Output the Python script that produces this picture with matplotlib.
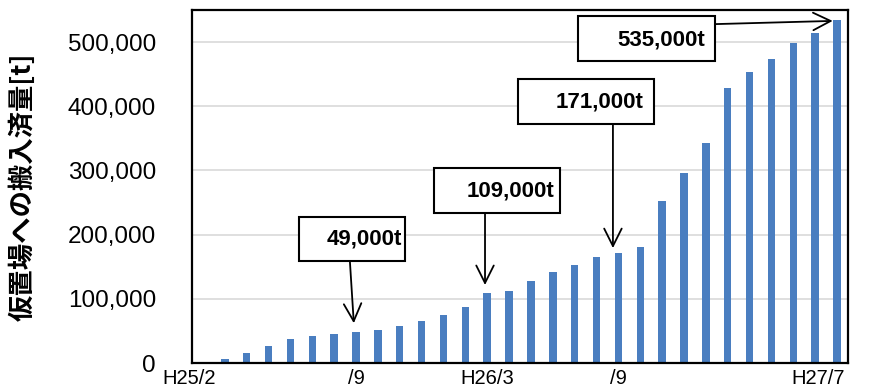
import matplotlib
matplotlib.use("Agg")
import matplotlib.pyplot as plt
from matplotlib.patches import Rectangle
from matplotlib.transforms import ScaledTranslation

plt.rcParams['font.family'] = ['Liberation Sans', 'Noto Sans CJK JP', 'DejaVu Sans']

# Monthly cumulative amounts, H25/2 .. H27/7 (30 months)
values = [1000, 7000, 15500, 26000, 37000, 41500, 44500, 49000, 51000, 57500,
          65000, 75000, 88000, 109000, 112000, 128000, 142000, 153000, 165000, 171000,
          181000, 252000, 296000, 342000, 429000, 454000, 474000, 499000, 514000, 535000]
tick_idx = [0, 7, 13, 19, 29]
tick_labels = ["H25/2", "/9", "H26/3", "/9", "H27/7"]
callout_idx = [7, 13, 19, 29]
callout_text = ["49,000t", "109,000t", "171,000t", "535,000t"]
ylabel = "仮置場への搬入済量[t]"

fig = plt.figure(figsize=(8.92, 3.87), dpi=100)
ax = fig.add_axes([192/892, 1-363/387, (848-192)/892, (363-10)/387])

x = list(range(len(values)))
ax.bar(x, values, width=0.34, color='#4A7EC0', zorder=3)

ax.set_xlim(-0.5, len(values) - 0.5)
ax.set_ylim(0, 550000)
ax.set_yticks(range(0, 500001, 100000))
ax.set_yticklabels([f"{v:,}" for v in range(0, 500001, 100000)], fontsize=17.5)
ax.yaxis.grid(True, color='#d9d9d9', linewidth=1.2, zorder=0)
ax.tick_params(axis='y', length=0, pad=26)
ax.set_xticks(tick_idx)
ax.set_xticklabels(tick_labels, fontsize=14.5)
ax.tick_params(axis='x', length=0, pad=4)
lbls = ax.get_xticklabels()
lbls[0].set_transform(lbls[0].get_transform() + ScaledTranslation(-14/100, 0, fig.dpi_scale_trans))
lbls[-1].set_transform(lbls[-1].get_transform() + ScaledTranslation(-19/100, 0, fig.dpi_scale_trans))
for s in ax.spines.values():
    s.set_linewidth(1.6)
    s.set_color('black')
    s.set_zorder(5)

ax.set_ylabel(ylabel, fontsize=19, fontweight='bold',
              family=['Noto Sans CJK JP', 'DejaVu Sans'])
ax.yaxis.set_label_coords((37 - 192) / 656, 0.5)

# callout layout: box (x0, x1, y0, y1), text right x, arrow start, arrow end offsets
layout = [
    dict(box=(4.39, 9.24, 158900, 227400), tx=9.1, ty=193000, a0=(-0.28, 158900), a1=(-0.1, 62000)),
    dict(box=(10.57, 16.33, 233600, 303700), tx=16.05, ty=268000, a0=(-0.1, 233600), a1=(-0.1, 121500)),
    dict(box=(14.41, 20.63, 372300, 442400), tx=20.17, ty=406500, a0=(-0.25, 372300), a1=(-0.25, 179000)),
    dict(box=(17.15, 23.41, 470400, 540500), tx=22.96, ty=504000, a0=(23.41 - 29, 528000), a1=(-0.2, 533000)),
]
for idx, txt, L in zip(callout_idx, callout_text, layout):
    x0, x1, y0, y1 = L['box']
    ax.add_patch(Rectangle((x0, y0), x1 - x0, y1 - y0, facecolor='white',
                           edgecolor='black', linewidth=1.5, zorder=6))
    ax.text(L['tx'], L['ty'], txt, ha='right', va='center', fontsize=16,
            fontweight='bold', zorder=7)
    ax.annotate("", xy=(idx + L['a1'][0], L['a1'][1]),
                xytext=(idx + L['a0'][0], L['a0'][1]),
                arrowprops=dict(arrowstyle='->,head_length=0.7,head_width=0.35',
                                lw=1.3, color='black', shrinkA=0, shrinkB=0,
                                mutation_scale=18),
                zorder=7)

fig.savefig("out.png", dpi=100)
